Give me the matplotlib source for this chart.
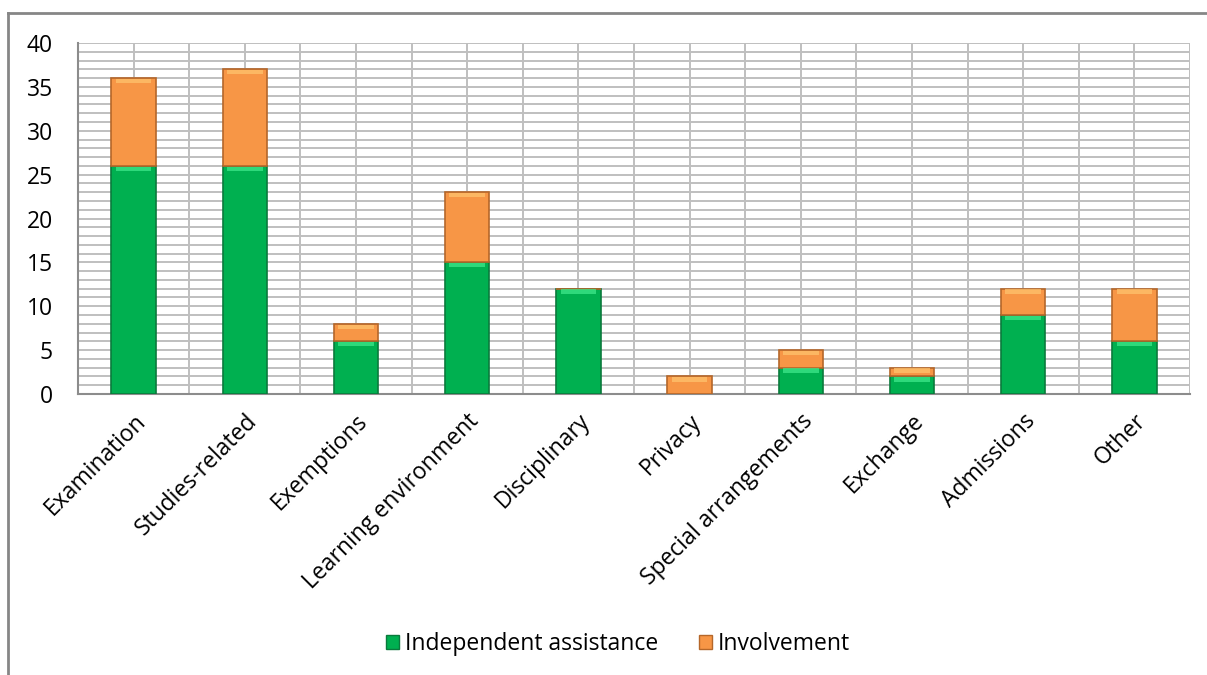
import matplotlib

matplotlib.use("Agg")
import numpy as np
from matplotlib import pyplot as plt
from matplotlib.lines import Line2D
from matplotlib.patches import Patch

categories = [
    "Examination",
    "Studies-related",
    "Exemptions",
    "Learning environment",
    "Disciplinary",
    "Privacy",
    "Special arrangements",
    "Exchange",
    "Admissions",
    "Other",
]
independent = [26, 26, 6, 15, 12, 0, 3, 2, 9, 6]
involvement = [10, 11, 2, 8, 0, 2, 2, 1, 3, 6]
y_ticks = [0, 5, 10, 15, 20, 25, 30, 35, 40]

GREEN = "#00B050"
GREEN_EDGE = "#0A7A3C"
GREEN_TOP = "#3EE88A"
ORANGE = "#F79646"
ORANGE_EDGE = "#B5672A"
ORANGE_TOP = "#FFC36E"
GRID = "#BFBFBF"
FS = 16.5

plt.rcParams["font.family"] = ["Open Sans", "DejaVu Sans"]

fig = plt.figure(figsize=(12.07, 6.75), dpi=100)
ax = fig.add_axes([78 / 1207, 1 - 394 / 675, (1190 - 78) / 1207, (394 - 43) / 675])

x = np.arange(len(categories))
width = 0.4
ax.bar(x, independent, width, color=GREEN, edgecolor=GREEN_EDGE, linewidth=1.2, zorder=3)
ax.bar(x, involvement, width, bottom=independent, color=ORANGE, edgecolor=ORANGE_EDGE, linewidth=1.2, zorder=3)

# lighter band on top of each segment, a rough take on the bevel
band = 0.5
for xi, g, o in zip(x, independent, involvement):
    if g > 0:
        ax.bar(xi, band, width * 0.8, bottom=g - band - 0.08, color=GREEN_TOP, linewidth=0, zorder=4, alpha=0.75)
    if o > 0:
        ax.bar(xi, band, width * 0.8, bottom=g + o - band - 0.08, color=ORANGE_TOP, linewidth=0, zorder=4, alpha=0.75)

ax.set_xlim(-0.5, len(categories) - 0.5)
ax.set_ylim(0, 40)

# grid: every unit horizontally, every half category vertically
for yv in range(1, 41):
    ax.axhline(yv, color=GRID, linewidth=1.4, zorder=1)
for xv in np.arange(0, len(categories), 0.5):
    ax.axvline(xv, color=GRID, linewidth=1.4, zorder=1)
ax.axvline(len(categories) - 0.5, color=GRID, linewidth=1.4, zorder=1)

ax.set_yticks(y_ticks)
ax.set_yticklabels([str(v) for v in y_ticks], fontsize=FS)
ax.set_xticks(x)
ax.set_xticklabels(categories, fontsize=FS, rotation=45, ha="right", va="top", rotation_mode="anchor")
ax.tick_params(axis="y", length=0, pad=18)
ax.tick_params(axis="x", length=0, pad=11)

for side in ("top", "right"):
    ax.spines[side].set_visible(False)
for side in ("left", "bottom"):
    ax.spines[side].set_color("#8C8C8C")
    ax.spines[side].set_linewidth(1.5)

handles = [
    Patch(facecolor=GREEN, edgecolor=GREEN_EDGE, label="Independent assistance"),
    Patch(facecolor=ORANGE, edgecolor=ORANGE_EDGE, label="Involvement"),
]
fig.legend(
    handles=handles,
    loc="center",
    bbox_to_anchor=(0.512, 1 - 644 / 675),
    ncol=2,
    frameon=False,
    fontsize=FS,
    handlelength=0.55,
    handleheight=0.55,
    handletextpad=0.25,
    columnspacing=1.8,
)

# outer chart border (top and left visible)
fig.add_artist(Line2D([8 / 1207, 1.0], [1 - 13 / 675, 1 - 13 / 675], color="#868686", linewidth=2))
fig.add_artist(Line2D([8 / 1207, 8 / 1207], [1 - 13 / 675, 0], color="#868686", linewidth=2))

fig.savefig("out.png", dpi=100)
